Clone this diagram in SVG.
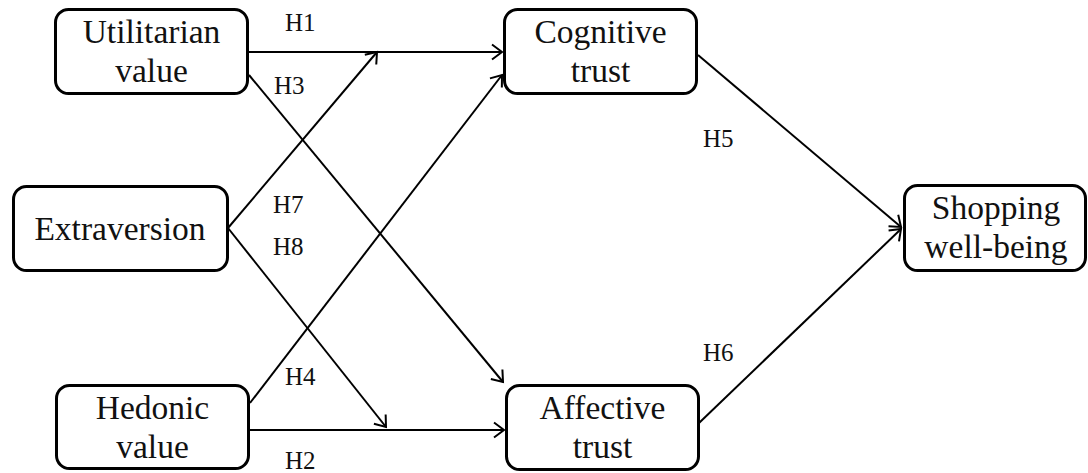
<svg xmlns="http://www.w3.org/2000/svg" width="1088" height="473" viewBox="0 0 1088 473">
<style>
.box{fill:#fff;stroke:#000;stroke-width:3}
.t{font-family:"Liberation Serif","Times New Roman",serif;font-size:33.5px;fill:#111;text-anchor:middle}
.h{font-family:"Liberation Serif","Times New Roman",serif;font-size:25px;fill:#111}
.c{stroke:#000;stroke-width:2;fill:none;marker-end:url(#arr)}
</style>
<defs>
<marker id="arr" markerUnits="userSpaceOnUse" markerWidth="24" markerHeight="24" viewBox="-12 -12 24 24" refX="0" refY="0" orient="auto">
<path d="M-10,-7.5 L0,0 L-10,7.5" fill="none" stroke="#000" stroke-width="2"/>
</marker>
</defs>
<rect width="1088" height="473" fill="#fff"/>
<g id="connectors">
<line class="c" x1="249" y1="52" x2="502" y2="52"/>
<line class="c" x1="228" y1="228" x2="377" y2="52"/>
<line class="c" x1="228" y1="228" x2="386" y2="427"/>
<line class="c" x1="249" y1="75" x2="503" y2="382"/>
<line class="c" x1="250" y1="403" x2="502" y2="75"/>
<line class="c" x1="250" y1="430" x2="504" y2="430"/>
<line class="c" x1="698" y1="55" x2="901" y2="227"/>
<line class="c" x1="699" y1="423" x2="901" y2="229"/>
</g>
<g id="labels">
<text class="h" x="285" y="31">H1</text>
<text class="h" x="274" y="94">H3</text>
<text class="h" x="273" y="213">H7</text>
<text class="h" x="273" y="255">H8</text>
<text class="h" x="285" y="385">H4</text>
<text class="h" x="285" y="469">H2</text>
<text class="h" x="703" y="147">H5</text>
<text class="h" x="703" y="361">H6</text>
</g>
<g id="utilitarian">
<rect class="box" x="55.5" y="9.5" width="192" height="84" rx="13"/>
<text class="t" x="151.5" y="43">Utilitarian</text>
<text class="t" x="151.5" y="82">value</text>
</g>
<g id="extraversion">
<rect class="box" x="13.5" y="186.5" width="214" height="84" rx="13"/>
<text class="t" x="120" y="240">Extraversion</text>
</g>
<g id="hedonic">
<rect class="box" x="56.5" y="385.5" width="192" height="83" rx="13"/>
<text class="t" x="152.5" y="419">Hedonic</text>
<text class="t" x="152.5" y="458">value</text>
</g>
<g id="cognitive">
<rect class="box" x="504.5" y="9.5" width="192" height="84" rx="13"/>
<text class="t" x="600.5" y="43">Cognitive</text>
<text class="t" x="600.5" y="82">trust</text>
</g>
<g id="affective">
<rect class="box" x="506.5" y="385.5" width="192" height="84" rx="13"/>
<text class="t" x="602.5" y="419">Affective</text>
<text class="t" x="602.5" y="458">trust</text>
</g>
<g id="shopping">
<rect class="box" x="904.5" y="185.5" width="181" height="85" rx="13"/>
<text class="t" x="996" y="219">Shopping</text>
<text class="t" x="996" y="258">well-being</text>
</g>
</svg>
